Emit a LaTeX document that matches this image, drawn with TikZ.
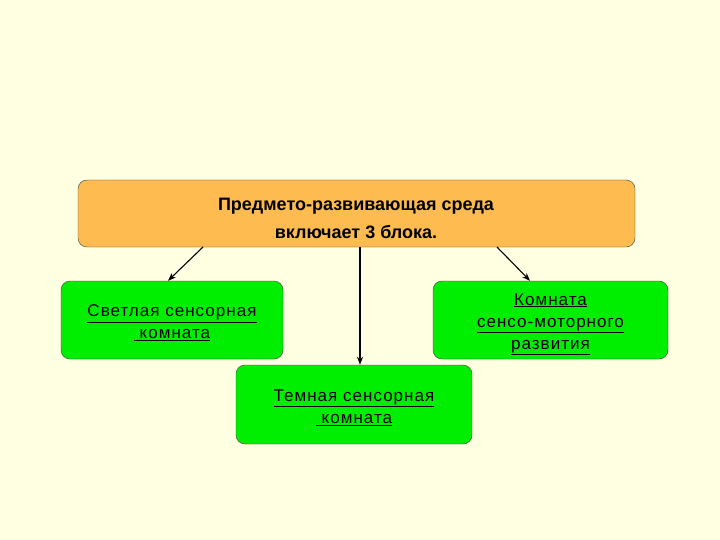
\documentclass[tikz,border=0pt]{standalone}
\usepackage{fontspec}
\setmainfont{Liberation Sans}
\usetikzlibrary{arrows.meta}

\definecolor{fond}{HTML}{FFFFE1}
\definecolor{orangebloc}{HTML}{FDBB50}
\definecolor{vertbloc}{HTML}{00EE00}

\tikzset{
  bloc/.style={draw=black!75, rounded corners=9pt, inner sep=0pt},
  texteblanc/.style={align=center, font=\addfontfeature{LetterSpace=6}\fontsize{17}{22}\selectfont},
  fleche/.style={-{Stealth[length=8pt,width=6pt]}, line width=1.1pt}
}

\begin{document}
\begin{tikzpicture}[x=1pt,y=-1pt]

% Fond
\fill[fond] (0,0) rectangle (720,540);
\useasboundingbox (0,0) rectangle (720,540);

% Bloc principal
\node[bloc, fill=orangebloc, minimum width=557pt, minimum height=67pt] (env) at (356.5,213.5) {};
\node[align=center, font=\bfseries\fontsize{18}{28}\selectfont] (titre) at (356,218)
  {Предмето-развивающая среда\\включает 3 блока.};

% Trois blocs
\node[bloc, fill=vertbloc, minimum width=222pt, minimum height=78pt] (clair) at (172,320) {};
\node[texteblanc] (tclair) at (172,323)
  {\underline{Светлая сенсорная}\\\underline{\ комната}};

\node[bloc, fill=vertbloc, minimum width=235pt, minimum height=78pt] (moteur) at (550.5,320) {};
\node[texteblanc] (tmoteur) at (550.5,324)
  {\underline{Комната}\\\underline{сенсо-моторного}\\\underline{развития}};

\node[bloc, fill=vertbloc, minimum width=236pt, minimum height=79pt] (sombre) at (354,404.5) {};
\node[texteblanc] (tsombre) at (354,407.5)
  {\underline{Темная сенсорная}\\\underline{\ комната}};

% Flèches
\coordinate (g) at (203,247);
\coordinate (m) at (360,247);
\coordinate (d) at (497,247);
\draw[fleche] (g) -- (clair.north -| 168,0);
\draw[fleche] (m) -- (m |- sombre.north);
\draw[fleche] (d) -- (moteur.north -| 530,0);

\end{tikzpicture}
\end{document}
